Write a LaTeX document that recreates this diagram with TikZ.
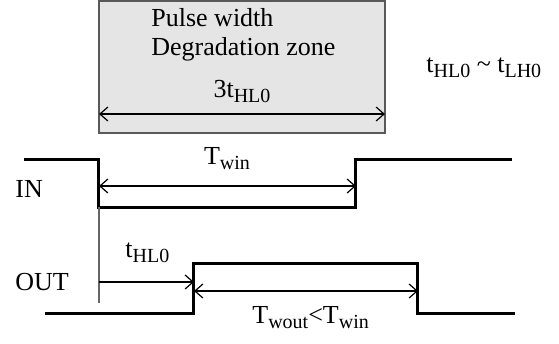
\documentclass[tikz,border=0pt]{standalone}
\usepackage{fontspec}
\setmainfont{Liberation Serif}
\usetikzlibrary{arrows.meta}
\newcommand{\lowsub}[1]{\raisebox{-2.5pt}{\fontsize{10}{12}\selectfont #1}}
\tikzset{signal/.style={line width=1.5pt,line join=miter},
	dim line/.style={line width=0.6pt},
	barb/.tip={Straight Barb[length=4pt,width=7pt,line width=0.6pt]},
	label text/.style={inner sep=0pt,anchor=base west,font=\fontsize{13}{15}\selectfont},
	zone box/.style={draw=black!65,fill=black!10,line width=0.6pt},
}

\begin{document}
\begin{tikzpicture}[x=0.5pt,y=-0.5pt]
	\useasboundingbox (0,0) rectangle (559,344);
	% degradation zone
	\coordinate (zone nw) at (99,1);
	\coordinate (zone se) at (385,133);
	\draw[zone box] (zone nw) rectangle (zone se);
	\coordinate (zone l) at (99,114);
	\coordinate (zone r) at (385,114);
	\draw[dim line,barb-barb] (zone l) -- (zone r);
	\node[label text] (pulse)[at={(151,26)}]{Pulse width};
	\node[label text] (degr)[at={(151,55)}]{Degradation zone};
	\node[label text,anchor=base] (three)[at={(242,97)}]{3t\lowsub{HL0}};
	\node[label text] (equal)[at={(426,72)}]{t\lowsub{HL0} \textasciitilde{} t\lowsub{LH0}};
	
	% IN
	\coordinate (in a) at (24,159);
	\coordinate (in b) at (99,159);
	\coordinate (in c) at (99,207);
	\coordinate (in d) at (356,207);
	\coordinate (in e) at (356,159);
	\coordinate (in f) at (512,159);
	\draw[signal] (in a) -- (in b) -- (in c) -- (in d) -- (in e) -- (in f);
	\coordinate (win l) at (99,186);
	\coordinate (win r) at (356,186);
	\draw[dim line,barb-barb] (win l) -- (win r);
	\node[label text,anchor=base] (twin)[at={(227,164)}]{T\lowsub{win}};
	\node[label text] (in)[at={(15,197)}]{IN};
	
	% OUT
	\coordinate (ref) at (99,303);
	\draw[dim line,black!60] (in c) -- (ref);
	\coordinate (out a) at (45,313);
	\coordinate (out b) at (194,313);
	\coordinate (out c) at (194,263);
	\coordinate (out d) at (418,263);
	\coordinate (out e) at (418,313);
	\coordinate (out f) at (515,313);
	\draw[signal] (out a) -- (out b) -- (out c) -- (out d) -- (out e) -- (out f);
	\coordinate (hl l) at (99,282);
	\coordinate (hl r) at (194,282);
	\draw[dim line,-barb] (hl l) -- (hl r);
	\coordinate (wout l) at (194,291);
	\coordinate (wout r) at (418,291);
	\draw[dim line,barb-barb] (wout l) -- (wout r);
	\node[label text] (thl)[at={(125,257)}]{t\lowsub{HL0}};
	\node[label text] (out)[at={(15,290)}]{OUT};
	\node[label text] (twout)[at={(252,323)}]{T\lowsub{wout}<T\lowsub{win}};
\end{tikzpicture}
\end{document}
